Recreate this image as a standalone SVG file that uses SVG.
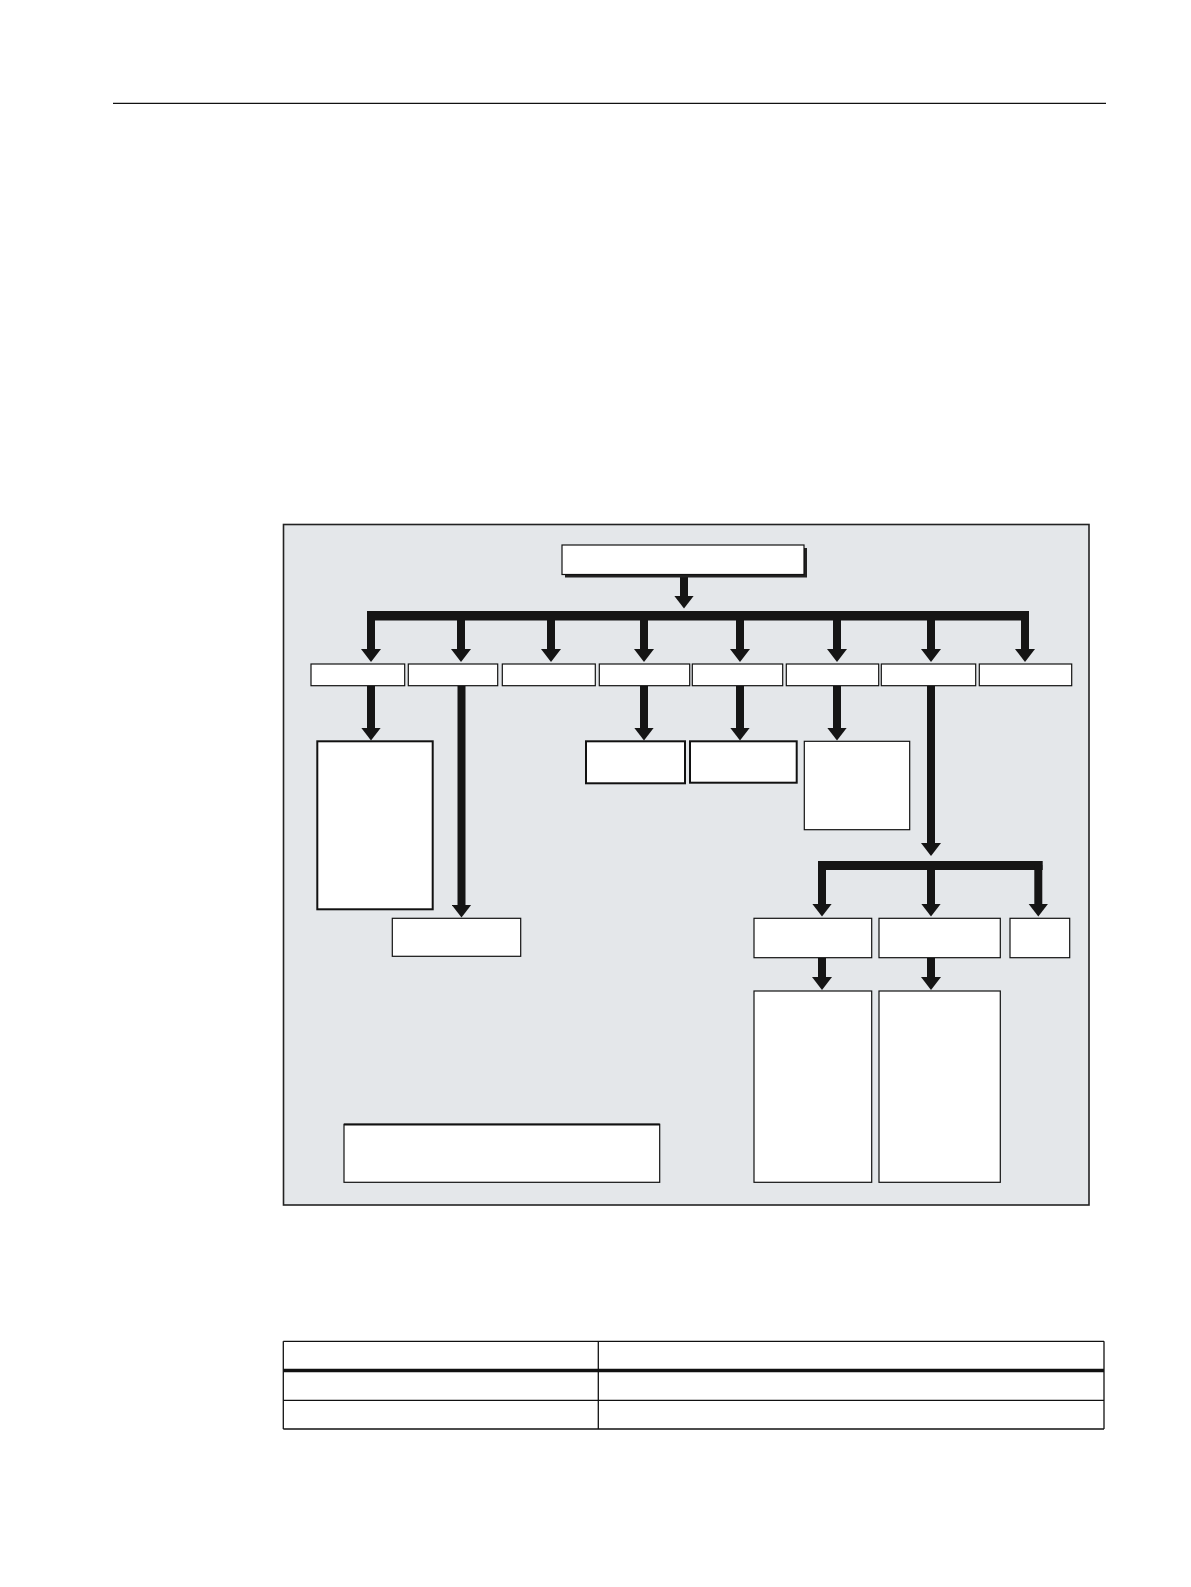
<svg xmlns="http://www.w3.org/2000/svg" width="1191" height="1587" viewBox="0 0 1191 1587">
<style>
.panel{fill:#e4e7ea;stroke:#222;stroke-width:1.6}
.box{fill:#fff;stroke:#111;stroke-width:1.2}
.box2{fill:#fff;stroke:#111;stroke-width:2}
.stem{stroke:#151515;stroke-width:8;fill:none;marker-end:url(#ah)}
.bar{fill:#151515}
.rule{stroke:#111;stroke-width:1.3;fill:none}
.thick{stroke:#111;stroke-width:3.5;fill:none}
</style>
<defs>
<marker id="ah" markerUnits="userSpaceOnUse" viewBox="0 -10 13 20" markerWidth="13" markerHeight="20" refX="0.5" refY="0" orient="auto">
<path d="M0,-10 L13,0 L0,10 z" fill="#151515"/>
</marker>
</defs>
<rect width="1191" height="1587" fill="#fff"/>
<line class="rule" x1="113" y1="103.3" x2="1106" y2="103.3"/>
<rect class="panel" x="283.5" y="524.5" width="805.5" height="680.5"/>
<g id="connectors">
<line class="stem" x1="684" y1="575" x2="684" y2="596"/>
<rect class="bar" x="367" y="611" width="662" height="9.5"/>
<line class="stem" x1="371" y1="615" x2="371" y2="649.5"/>
<line class="stem" x1="461" y1="615" x2="461" y2="649.5"/>
<line class="stem" x1="551" y1="615" x2="551" y2="649.5"/>
<line class="stem" x1="644" y1="615" x2="644" y2="649.5"/>
<line class="stem" x1="740" y1="615" x2="740" y2="649.5"/>
<line class="stem" x1="837" y1="615" x2="837" y2="649.5"/>
<line class="stem" x1="931" y1="615" x2="931" y2="649.5"/>
<line class="stem" x1="1025" y1="615" x2="1025" y2="649.5"/>
<line class="stem" x1="371" y1="686" x2="371" y2="728"/>
<line class="stem" x1="461.5" y1="686" x2="461.5" y2="905"/>
<line class="stem" x1="644" y1="686" x2="644" y2="728"/>
<line class="stem" x1="740" y1="686" x2="740" y2="728"/>
<line class="stem" x1="837" y1="686" x2="837" y2="728"/>
<line class="stem" x1="931" y1="686" x2="931" y2="843.5"/>
<rect class="bar" x="818" y="861" width="224.7" height="9"/>
<line class="stem" x1="822" y1="865" x2="822" y2="904"/>
<line class="stem" x1="931" y1="865" x2="931" y2="904"/>
<line class="stem" x1="1038.3" y1="865" x2="1038.3" y2="904"/>
<line class="stem" x1="822" y1="958" x2="822" y2="977.5"/>
<line class="stem" x1="931" y1="958" x2="931" y2="977.5"/>
</g>
<g id="root">
<rect x="565" y="548" width="242" height="29.5" fill="#222"/>
<rect class="box" x="562" y="545" width="242" height="29.5"/>
</g>
<g id="n1"><rect class="box" x="311" y="664" width="93.7" height="21.7"/></g>
<g id="n2"><rect class="box" x="408.3" y="664" width="89.4" height="21.7"/></g>
<g id="n3"><rect class="box" x="502.3" y="664" width="93" height="21.7"/></g>
<g id="n4"><rect class="box" x="599.3" y="664" width="90.4" height="21.7"/></g>
<g id="n5"><rect class="box" x="692.3" y="664" width="90.4" height="21.7"/></g>
<g id="n6"><rect class="box" x="786.3" y="664" width="92.4" height="21.7"/></g>
<g id="n7"><rect class="box" x="881.3" y="664" width="94.4" height="21.7"/></g>
<g id="n8"><rect class="box" x="979.3" y="664" width="92.4" height="21.7"/></g>
<g id="n1a"><rect class="box2" x="317.3" y="741.3" width="115.4" height="168"/></g>
<g id="n2a"><rect class="box" x="392.3" y="918.3" width="128.4" height="38"/></g>
<g id="n4a"><rect class="box2" x="586" y="741.3" width="99" height="42"/></g>
<g id="n5a"><rect class="box2" x="690" y="741.3" width="106.7" height="41.4"/></g>
<g id="n6a"><rect class="box" x="804.3" y="741.3" width="105.4" height="88.4"/></g>
<g id="n7a"><rect class="box" x="754" y="918.3" width="117.7" height="39.4"/></g>
<g id="n7b"><rect class="box" x="879" y="918.3" width="121.3" height="39.4"/></g>
<g id="n7c"><rect class="box" x="1010" y="918.3" width="59.7" height="39.4"/></g>
<g id="n7a1"><rect class="box" x="754" y="991" width="117.7" height="191.3"/></g>
<g id="n7b1"><rect class="box" x="879" y="991" width="121.3" height="191.3"/></g>
<g id="note"><rect class="box" x="344" y="1124.3" width="315.7" height="58"/>
<line x1="344" y1="1124.5" x2="659.7" y2="1124.5" stroke="#111" stroke-width="2"/></g>
<g id="table">
<line class="rule" x1="283.3" y1="1341.3" x2="1104" y2="1341.3"/>
<line class="thick" x1="283.3" y1="1370.5" x2="1104" y2="1370.5"/>
<line class="rule" x1="283.3" y1="1400.3" x2="1104" y2="1400.3"/>
<line class="rule" x1="283.3" y1="1429" x2="1104" y2="1429"/>
<line class="rule" x1="283.3" y1="1341.3" x2="283.3" y2="1429"/>
<line class="rule" x1="598.3" y1="1341.3" x2="598.3" y2="1429"/>
<line class="rule" x1="1104" y1="1341.3" x2="1104" y2="1429"/>
</g>
</svg>
